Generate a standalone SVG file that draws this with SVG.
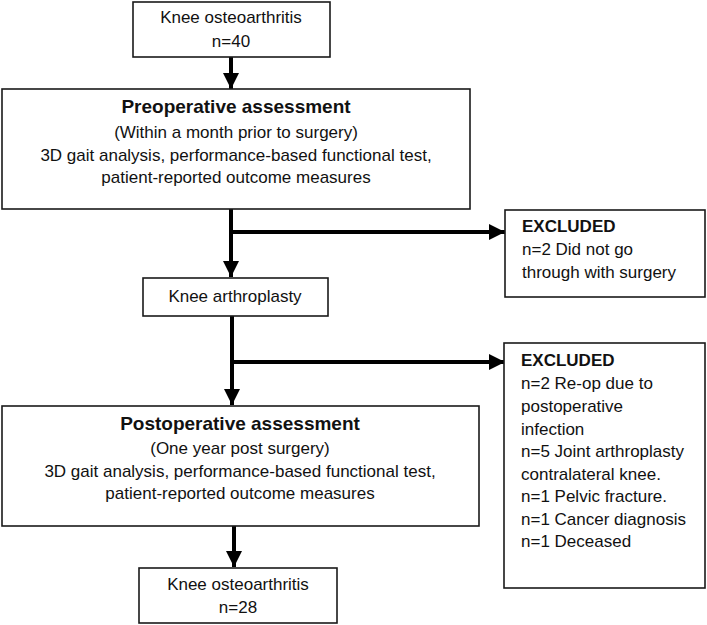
<svg xmlns="http://www.w3.org/2000/svg" width="707" height="625" viewBox="0 0 707 625">
<style>
.box{fill:#fff;stroke:#1a1a1a;stroke-width:1.6}
.t{font-family:"Liberation Sans",Arial,sans-serif;font-size:17px;fill:#111}
.c{text-anchor:middle}
.b{font-weight:bold}
.h{font-weight:bold;font-size:19px}
.ln{stroke:#000;stroke-width:4;fill:none}
</style>
<defs>
<marker id="ah" markerUnits="userSpaceOnUse" markerWidth="16" markerHeight="16" viewBox="0 0 14 14" refX="14" refY="7" orient="auto">
<path d="M0,0 L14,7 L0,14 Z" fill="#000"/>
</marker>
</defs>
<g id="connectors">
<line class="ln" x1="231" y1="57" x2="231" y2="89" marker-end="url(#ah)"/>
<line class="ln" x1="231" y1="209" x2="231" y2="277" marker-end="url(#ah)"/>
<line class="ln" x1="229" y1="232" x2="505" y2="232" marker-end="url(#ah)"/>
<line class="ln" x1="232" y1="316" x2="232" y2="405" marker-end="url(#ah)"/>
<line class="ln" x1="230" y1="362" x2="505" y2="362" marker-end="url(#ah)"/>
<line class="ln" x1="234" y1="526" x2="234" y2="567" marker-end="url(#ah)"/>
</g>
<g id="n1">
<rect class="box" x="133" y="2" width="197" height="55"/>
<text class="t c" x="231" y="23">Knee osteoarthritis</text>
<text class="t c" x="231" y="47">n=40</text>
</g>
<g id="n2">
<rect class="box" x="2" y="89" width="468" height="120"/>
<text class="t c h" x="236" y="113">Preoperative assessment</text>
<text class="t c" x="236" y="138">(Within a month prior to surgery)</text>
<text class="t c" x="236" y="161">3D gait analysis, performance-based functional test,</text>
<text class="t c" x="236" y="183">patient-reported outcome measures</text>
</g>
<g id="n3">
<rect class="box" x="505" y="210" width="200" height="87"/>
<text class="t b" x="522" y="232">EXCLUDED</text>
<text class="t" x="522" y="255">n=2 Did not go</text>
<text class="t" x="522" y="278">through with surgery</text>
</g>
<g id="n4">
<rect class="box" x="143" y="278" width="185" height="38"/>
<text class="t c" x="235" y="302">Knee arthroplasty</text>
</g>
<g id="n5">
<rect class="box" x="504" y="343" width="201" height="245"/>
<text class="t b" x="521" y="366">EXCLUDED</text>
<text class="t" x="521" y="389">n=2 Re-op due to</text>
<text class="t" x="521" y="412">postoperative</text>
<text class="t" x="521" y="435">infection</text>
<text class="t" x="521" y="457">n=5 Joint arthroplasty</text>
<text class="t" x="521" y="480">contralateral knee.</text>
<text class="t" x="521" y="502">n=1 Pelvic fracture.</text>
<text class="t" x="521" y="525">n=1 Cancer diagnosis</text>
<text class="t" x="521" y="547">n=1 Deceased</text>
</g>
<g id="n6">
<rect class="box" x="2" y="406" width="477" height="120"/>
<text class="t c h" x="240" y="430">Postoperative assessment</text>
<text class="t c" x="240" y="454">(One year post surgery)</text>
<text class="t c" x="240" y="477">3D gait analysis, performance-based functional test,</text>
<text class="t c" x="240" y="499">patient-reported outcome measures</text>
</g>
<g id="n7">
<rect class="box" x="139" y="568" width="198" height="55"/>
<text class="t c" x="238" y="590">Knee osteoarthritis</text>
<text class="t c" x="238" y="613">n=28</text>
</g>
</svg>
